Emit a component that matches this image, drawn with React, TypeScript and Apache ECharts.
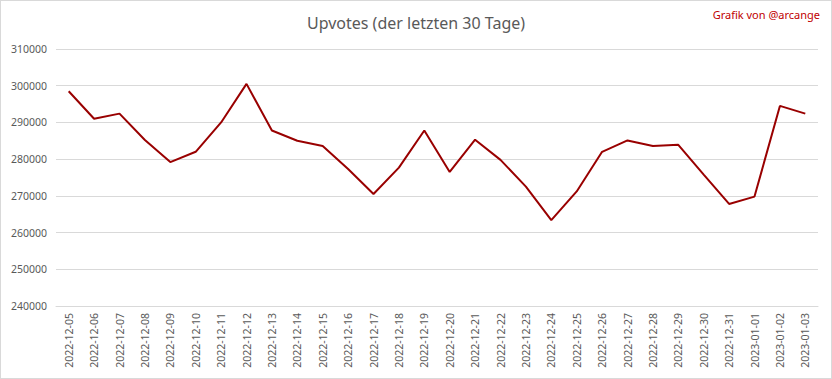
import React, { useEffect, useRef } from "react";
import * as echarts from "echarts";

const categories = [
  "2022-12-05", "2022-12-06", "2022-12-07", "2022-12-08", "2022-12-09",
  "2022-12-10", "2022-12-11", "2022-12-12", "2022-12-13", "2022-12-14",
  "2022-12-15", "2022-12-16", "2022-12-17", "2022-12-18", "2022-12-19",
  "2022-12-20", "2022-12-21", "2022-12-22", "2022-12-23", "2022-12-24",
  "2022-12-25", "2022-12-26", "2022-12-27", "2022-12-28", "2022-12-29",
  "2022-12-30", "2022-12-31", "2023-01-01", "2023-01-02", "2023-01-03",
];

const upvotes = [
  298500, 291000, 292400, 285200, 279200,
  282000, 290000, 300500, 287800, 285000,
  283600, 277300, 270500, 277700, 287800,
  276500, 285300, 279800, 272500, 263400,
  271200, 282000, 285100, 283600, 283900,
  275800, 267800, 269800, 294500, 292400,
];

const titleText = "Upvotes (der letzten 30 Tage)";
const creditText = "Grafik von @arcange";

export default function App() {
  const ref = useRef<HTMLDivElement>(null);

  useEffect(() => {
    document.body.style.margin = "0";
    if (!ref.current) return;
    const chart = echarts.init(ref.current, undefined, { renderer: "svg" });
    chart.setOption({
      animation: false,
      backgroundColor: "#ffffff",
      textStyle: { fontFamily: "Noto Sans" },
      title: {
        text: titleText,
        left: "center",
        top: 10,
        textStyle: {
          fontFamily: "Noto Sans",
          fontSize: 16,
          fontWeight: "normal",
          color: "#595959",
        },
      },
      graphic: [
        {
          type: "text",
          right: 12,
          top: 9,
          style: {
            text: creditText,
            fill: "#c00000",
            fontFamily: "Noto Sans",
            fontSize: 11,
          },
        },
      ],
      grid: { left: 56, right: 14, top: 49, bottom: 73 },
      xAxis: {
        type: "category",
        data: categories,
        boundaryGap: true,
        axisLine: { lineStyle: { color: "#d9d9d9" } },
        axisTick: { show: false },
        axisLabel: {
          rotate: 90,
          interval: 0,
          color: "#595959",
          fontSize: 10.5,
          margin: 7,
        },
      },
      yAxis: {
        type: "value",
        min: 240000,
        max: 310000,
        interval: 10000,
        axisLine: { show: false },
        axisTick: { show: false },
        axisLabel: {
          color: "#595959",
          fontSize: 10.5,
          margin: 9,
          formatter: (v: number) => String(v),
        },
        splitLine: { lineStyle: { color: "#d9d9d9", width: 1 } },
      },
      series: [
        {
          type: "line",
          data: upvotes,
          symbol: "none",
          lineStyle: { color: "#990000", width: 2 },
        },
      ],
    });
    return () => chart.dispose();
  }, []);

  return (
    <div
      style={{
        position: "relative",
        width: 832,
        height: 379,
        boxSizing: "border-box",
        border: "1px solid #d9d9d9",
        overflow: "hidden",
      }}
    >
      <div
        ref={ref}
        style={{ position: "absolute", left: -1, top: -1, width: 832, height: 379 }}
      />
    </div>
  );
}
